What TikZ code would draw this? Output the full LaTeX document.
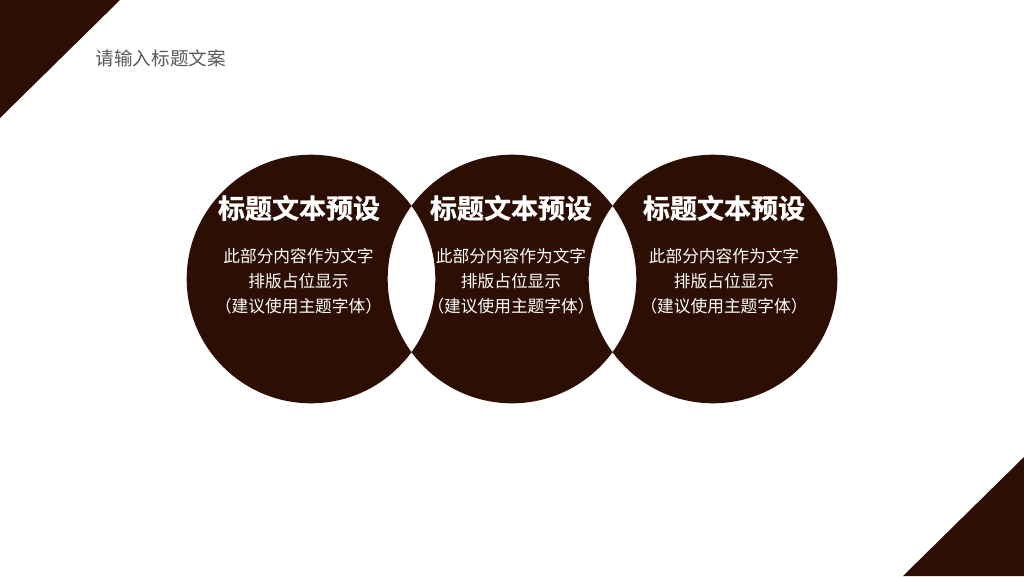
\documentclass[tikz,border=0pt]{standalone}
\usepackage{fontspec}
\newfontfamily\cjk{Noto Sans CJK SC}
\newfontfamily\cjkbold[FakeBold=0.8]{Noto Sans CJK SC Bold}
\definecolor{brownd}{HTML}{2C0E03}
\definecolor{graytxt}{HTML}{595959}
\begin{document}
\begin{tikzpicture}[x=1pt,y=-1pt,
  headline/.style={text=white,inner sep=0pt,font=\cjkbold\fontsize{27}{30}\selectfont},
  bodytext/.style={text=white,inner sep=0pt,align=center,font=\cjk\fontsize{16.7}{25}\selectfont},
  pagetitle/.style={text=graytxt,inner sep=0pt,anchor=west,font=\cjk\fontsize{18.6}{22}\selectfont}]
\useasboundingbox (0,0) rectangle (1024,576);
\fill[white] (0,0) rectangle (1024,576);
% corner triangles
\fill[brownd] (0,0) -- (120,0) -- (0,118) -- cycle;
\fill[brownd] (1024,457) -- (1024,576) -- (903,576) -- cycle;
% three overlapping circles, overlaps left white
\fill[brownd,even odd rule] (311,279) circle[radius=124.3] (512,279) circle[radius=124.3] (713,279) circle[radius=124.3];
% page title
\node[pagetitle] (pt) at (95.5,58.5) {请输入标题文案};
% circle texts
\node[headline] (h1) at (299,208) {标题文本预设};
\node[headline] (h2) at (511,208) {标题文本预设};
\node[headline] (h3) at (724,208) {标题文本预设};
\node[bodytext] (b1) at (298.5,281.7) {此部分内容作为文字\\排版占位显示\\（建议使用主题字体）};
\node[bodytext] (b2) at (511,281.7) {此部分内容作为文字\\排版占位显示\\（建议使用主题字体）};
\node[bodytext] (b3) at (724,281.7) {此部分内容作为文字\\排版占位显示\\（建议使用主题字体）};
\end{tikzpicture}
\end{document}
